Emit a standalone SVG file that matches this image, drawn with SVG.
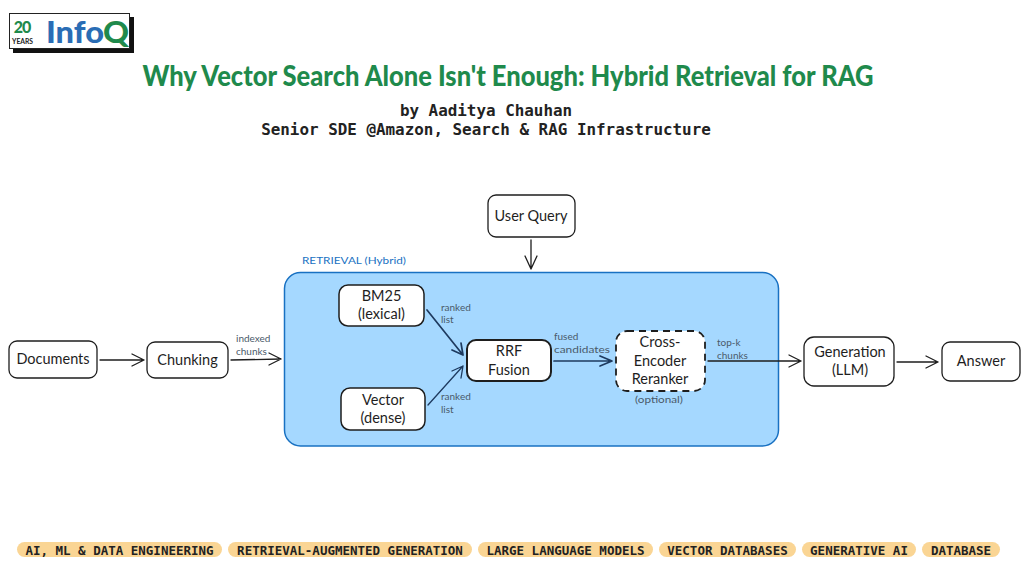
<svg xmlns="http://www.w3.org/2000/svg" width="1024" height="576" viewBox="0 0 1024 576">
<style>
.n{fill:#fff;stroke:#1e1e1e;stroke-width:1.3}
.nt{font-family:"Lato","Open Sans",sans-serif;font-size:14.5px;fill:#1e1e1e;text-anchor:middle}
.el{font-family:"Lato","Open Sans",sans-serif;font-size:10px;fill:#4a5a6a}
.c{fill:none;stroke:#1e1e1e;stroke-width:1.3;stroke-linecap:round;stroke-linejoin:round}
.d{stroke:#1e3a5f}
.p{fill:#fad594}
.pt{font-family:"DejaVu Sans Mono","Liberation Mono",monospace;font-weight:700;font-size:12.500px;fill:#222;text-anchor:middle}
.sub{font-family:"DejaVu Sans Mono","Liberation Mono",monospace;font-weight:700;font-size:15.900px;fill:#222;text-anchor:middle}
</style>
<rect width="1024" height="576" fill="#fff"/>
<g id="logo">
<rect x="13" y="17" width="121" height="36" fill="#111"/>
<rect x="9.500" y="13.500" width="120" height="35" fill="#fff" stroke="#222" stroke-width="1"/>
<text x="22" y="33" font-family="Lato,sans-serif" font-weight="900" font-size="16" letter-spacing="-1" fill="#1f8a4c" text-anchor="middle">20</text>
<text x="22.500" y="44" font-family="Lato,sans-serif" font-weight="700" font-size="7" fill="#222" text-anchor="middle" textLength="21" lengthAdjust="spacingAndGlyphs">YEARS</text>
<text x="46" y="43" font-family="Lato,sans-serif" font-weight="900" font-size="31" fill="#2a6db5" textLength="58" lengthAdjust="spacingAndGlyphs">Info</text>
<text x="103" y="43" font-family="Lato,sans-serif" font-weight="900" font-size="31" fill="#1f8a4c" textLength="26" lengthAdjust="spacingAndGlyphs">Q</text>
</g>
<g id="header">
<text x="508" y="86" font-family="Lato,sans-serif" font-weight="900" font-size="28" fill="#1f8a4c" text-anchor="middle" textLength="731" lengthAdjust="spacingAndGlyphs">Why Vector Search Alone Isn't Enough: Hybrid Retrieval for RAG</text>
<text x="486" y="116" class="sub">by Aaditya Chauhan</text>
<text x="486" y="135" class="sub">Senior SDE @Amazon, Search &amp; RAG Infrastructure</text>
</g>
<g id="retrieval">
<rect x="284.500" y="272.500" width="494" height="173.500" rx="16" fill="#a5d8ff" stroke="#1971c2" stroke-width="1.500"/>
<text x="302" y="264" font-family="Lato,sans-serif" font-size="10" fill="#1971c2" textLength="104" lengthAdjust="spacingAndGlyphs">RETRIEVAL (Hybrid)</text>
</g>
<g id="connectors">
<path class="c" d="M100 360H144M132 354L144 360L132 366"/>
<path class="c" d="M231 360L281 359M269 353L281 359L269 365"/>
<path class="c" d="M531 240V269M525 256L531 269L537 256"/>
<path class="c d" d="M427 310L463 355M452 350L463 355L461 343" style="stroke-width:1.700"/>
<path class="c d" d="M428 405L463 366M461 378L463 366L452 371"/>
<path class="c d" d="M554 361H612M600 356L612 361L600 366" style="stroke-width:1.700"/>
<path class="c" d="M708 361H801M789 355L801 361L789 367"/>
<path class="c" d="M897 362H938M926 356L938 362L926 368"/>
</g>
<g id="edge-labels">
<text class="el" x="236" y="342">indexed</text>
<text class="el" x="236" y="355">chunks</text>
<text class="el" x="441" y="311">ranked</text>
<text class="el" x="441" y="323">list</text>
<text class="el" x="441" y="400">ranked</text>
<text class="el" x="441" y="413">list</text>
<text class="el" x="554" y="340">fused</text>
<text class="el" x="554" y="353" textLength="56" lengthAdjust="spacingAndGlyphs">candidates</text>
<text class="el" x="717" y="346">top-k</text>
<text class="el" x="717" y="359">chunks</text>
<text class="el" x="635" y="403" textLength="48" lengthAdjust="spacingAndGlyphs">(optional)</text>
</g>
<g id="documents"><rect class="n" x="9" y="341" width="88" height="37" rx="8"/><text class="nt" x="53" y="364">Documents</text></g>
<g id="chunking"><rect class="n" x="147" y="342" width="81" height="36" rx="8"/><text class="nt" x="187.500" y="365">Chunking</text></g>
<g id="user-query"><rect class="n" x="488" y="195" width="87" height="42" rx="8"/><text class="nt" x="531" y="221">User Query</text></g>
<g id="bm25"><rect class="n" x="339" y="285" width="85" height="41" rx="9" style="stroke-width:1.500"/><text class="nt" x="381.500" y="301">BM25</text><text class="nt" x="381.500" y="319">(lexical)</text></g>
<g id="vector"><rect class="n" x="341" y="388" width="84" height="42" rx="9" style="stroke-width:1.500"/><text class="nt" x="383" y="405">Vector</text><text class="nt" x="383" y="423">(dense)</text></g>
<g id="rrf"><rect class="n" x="467" y="340" width="84" height="41" rx="9" style="stroke-width:2"/><text class="nt" x="509" y="356">RRF</text><text class="nt" x="509" y="375">Fusion</text></g>
<g id="reranker"><rect class="n" x="616" y="331" width="89" height="60" rx="11" style="stroke-width:1.800;stroke-dasharray:7 5"/><text class="nt" x="660" y="347">Cross-</text><text class="nt" x="660" y="366">Encoder</text><text class="nt" x="660" y="384">Reranker</text></g>
<g id="generation"><rect class="n" x="804" y="337" width="90" height="49" rx="10"/><text class="nt" x="850" y="357">Generation</text><text class="nt" x="850" y="375">(LLM)</text></g>
<g id="answer"><rect class="n" x="942" y="342" width="78" height="39" rx="8"/><text class="nt" x="981" y="366">Answer</text></g>
<g id="tags">
<rect class="p" x="17" y="542" width="205" height="15" rx="7.500"/><text class="pt" x="119.500" y="554.500">AI, ML &amp; DATA ENGINEERING</text>
<rect class="p" x="228" y="542" width="244" height="15" rx="7.500"/><text class="pt" x="350" y="554.500">RETRIEVAL-AUGMENTED GENERATION</text>
<rect class="p" x="478" y="542" width="175" height="15" rx="7.500"/><text class="pt" x="565.500" y="554.500">LARGE LANGUAGE MODELS</text>
<rect class="p" x="659" y="542" width="137" height="15" rx="7.500"/><text class="pt" x="727.500" y="554.500">VECTOR DATABASES</text>
<rect class="p" x="802" y="542" width="114" height="15" rx="7.500"/><text class="pt" x="859" y="554.500">GENERATIVE AI</text>
<rect class="p" x="922" y="542" width="78" height="15" rx="7.500"/><text class="pt" x="961" y="554.500">DATABASE</text>
</g>
</svg>
